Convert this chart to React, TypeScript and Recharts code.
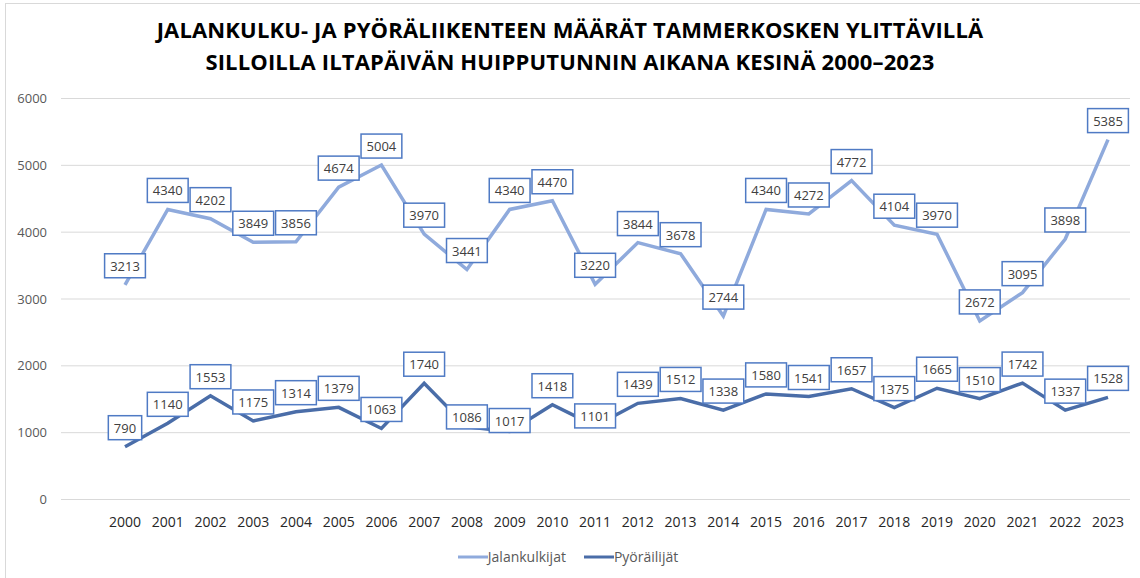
import React from "react";
import { LineChart, Line, XAxis, YAxis, CartesianGrid, LabelList, Legend } from "recharts";

const years = ["2000","2001","2002","2003","2004","2005","2006","2007","2008","2009","2010","2011","2012","2013","2014","2015","2016","2017","2018","2019","2020","2021","2022","2023"];
const pedestrians = [3213, 4340, 4202, 3849, 3856, 4674, 5004, 3970, 3441, 4340, 4470, 3220, 3844, 3678, 2744, 4340, 4272, 4772, 4104, 3970, 2672, 3095, 3898, 5385];
const cyclists = [790, 1140, 1553, 1175, 1314, 1379, 1063, 1740, 1086, 1017, 1418, 1101, 1439, 1512, 1338, 1580, 1541, 1657, 1375, 1665, 1510, 1742, 1337, 1528];
const yTicks = [0, 1000, 2000, 3000, 4000, 5000, 6000];
const seriesNames = ["Jalankulkijat", "Pyöräilijät"];
const titleLines = [
  "JALANKULKU- JA PYÖRÄLIIKENTEEN MÄÄRÄT TAMMERKOSKEN YLITTÄVILLÄ",
  "SILLOILLA ILTAPÄIVÄN HUIPPUTUNNIN AIKANA KESINÄ 2000–2023",
];

const data = years.map((y, i) => ({ year: y, ped: pedestrians[i], cyc: cyclists[i] }));

const FONT = "'Open Sans', sans-serif";
const PED_COLOR = "#8FAADC";
const CYC_COLOR = "#4A6DA8";
const BOX_COLOR = "#4F7AC4";

// label nudges (style only): cyclist labels placed closer to the line
const cycNudge: Record<number, number> = { 8: 9, 9: 8, 11: 9 };

const makeLabel = (nudge: Record<number, number>) => (props: any) => {
  const { x, y, value, index } = props;
  if (x == null || y == null) return null;
  const txt = String(value);
  const w = txt.length * 7.45 + 11;
  const h = 24;
  const cy = y - 19 + (nudge[index] || 0);
  return (
    <g>
      <rect x={x - w / 2} y={cy - h / 2} width={w} height={h} fill="#fff" stroke={BOX_COLOR} strokeWidth={1.5} />
      <text x={x} y={cy} textAnchor="middle" dominantBaseline="central" fontSize={13} fill="#404040" fontFamily={FONT}>
        {txt}
      </text>
    </g>
  );
};

const LegendContent = () => (
  <div style={{ height: 24, lineHeight: "24px", display: "flex", justifyContent: "center", fontFamily: FONT, fontSize: 14, color: "#595959", paddingLeft: 6 }}>
    {[PED_COLOR, CYC_COLOR].map((c, i) => (
      <span key={i} style={{ display: "flex", alignItems: "center", marginRight: i === 0 ? 18 : 0 }}>
        <svg width={30} height={24}>
          <line x1={0} x2={30} y1={12} y2={12} stroke={c} strokeWidth={3} />
        </svg>
        <span>{seriesNames[i]}</span>
      </span>
    ))}
  </div>
);

export default function App() {
  return (
    <div style={{ position: "absolute", left: 0, top: 0, width: 1140, height: 578, overflow: "hidden", background: "#fff" }}>
      <div style={{ position: "absolute", left: 5, top: 3, width: 1300, height: 800, border: "1px solid #D9D9D9" }} />
      <div style={{ position: "absolute", left: 0, top: 14.4, width: 1140, textAlign: "center", fontFamily: FONT, fontWeight: 700, fontSize: 22, lineHeight: "31.5px", color: "#000", letterSpacing: 0.15 }}>
        {titleLines.map((t, i) => (
          <div key={i}>{t}</div>
        ))}
      </div>
      <div style={{ position: "absolute", left: 0, top: 0 }}>
        <LineChart width={1140} height={578} data={data} margin={{ top: 98.5, right: 10, bottom: 9, left: 0 }}>
          <CartesianGrid horizontal vertical={false} stroke="#D9D9D9" strokeWidth={1} />
          <XAxis
            dataKey="year"
            padding={{ left: 64, right: 22 }}
            axisLine={false}
            tickLine={false}
            height={45.5}
            tickMargin={12}
            interval={0}
            tick={{ fontSize: 14, fill: "#262626", fontFamily: FONT }}
          />
          <YAxis
            width={61}
            domain={[0, 6000]}
            ticks={yTicks}
            axisLine={false}
            tickLine={false}
            tickMargin={8}
            tick={{ fontSize: 13, fill: "#595959", fontFamily: FONT }}
          />
          <Legend verticalAlign="bottom" content={<LegendContent />} />
          <Line type="linear" dataKey="ped" name={seriesNames[0]} stroke={PED_COLOR} strokeWidth={3.5} dot={false} isAnimationActive={false}>
            <LabelList dataKey="ped" content={makeLabel({})} />
          </Line>
          <Line type="linear" dataKey="cyc" name={seriesNames[1]} stroke={CYC_COLOR} strokeWidth={3.5} dot={false} isAnimationActive={false}>
            <LabelList dataKey="cyc" content={makeLabel(cycNudge)} />
          </Line>
        </LineChart>
      </div>
    </div>
  );
}
